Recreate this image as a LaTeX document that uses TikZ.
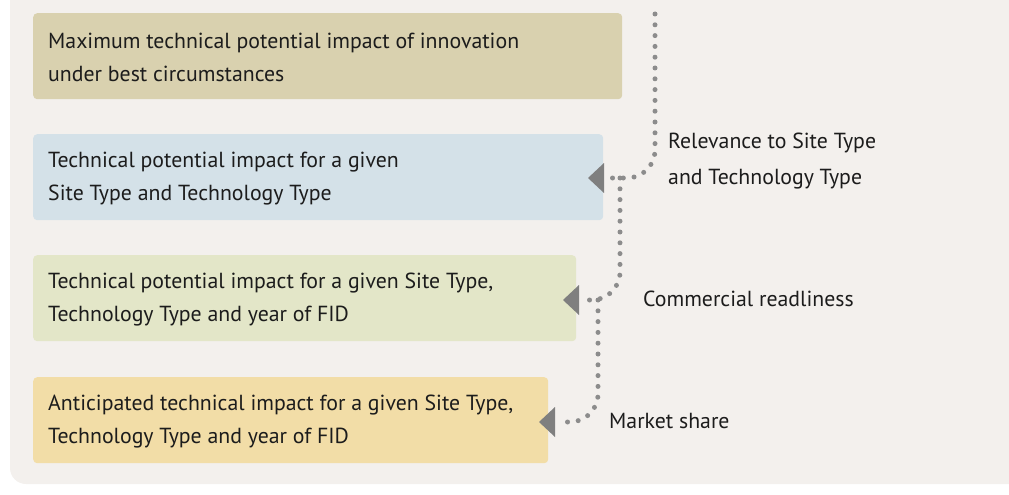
\documentclass[tikz,border=0pt]{standalone}
\usepackage{fontspec}
\setmainfont{PT Sans}
\definecolor{panel}{HTML}{F3F0ED}
\definecolor{boxA}{HTML}{D9D1AF}
\definecolor{boxB}{HTML}{D4E1E8}
\definecolor{boxC}{HTML}{E3E6C8}
\definecolor{boxD}{HTML}{F2DDA7}
\definecolor{dotc}{HTML}{8C8C8C}
\definecolor{arrc}{HTML}{7F7F7F}
\definecolor{txt}{HTML}{1C1C1C}
\tikzset{
  box/.style={anchor=north west, rounded corners=4pt, minimum height=86pt, inner sep=0pt},
  btxt/.style={anchor=west, inner sep=0pt, align=left, text=txt, font=\fontsize{21.8}{33}\selectfont},
  lbl/.style={anchor=west, inner sep=0pt, align=left, text=txt, font=\fontsize{21.8}{36}\selectfont},
  dots/.style={draw=dotc, line width=5pt, line cap=round, dash pattern=on 0pt off 10.8pt, rounded corners=28pt},
  arr/.style={fill=arrc},
}
\begin{document}
\begin{tikzpicture}[x=1pt,y=-1pt]
\useasboundingbox (0,0) rectangle (1009,495);
\begin{scope}
\clip (0,0) rectangle (1009,495);
\fill[panel, rounded corners=16pt] (10,-30) rectangle (1040,484);
\end{scope}
\node[box, fill=boxA, minimum width=589pt] (b1) at (33,13) {};
\node[box, fill=boxB, minimum width=570pt] (b2) at (33,134) {};
\node[box, fill=boxC, minimum width=543pt] (b3) at (33,255) {};
\node[box, fill=boxD, minimum width=515pt] (b4) at (33,377) {};
\node[btxt] (x1) at ([xshift=15pt,yshift=-1.5pt]b1.west) {Maximum technical potential impact of innovation\\under best circumstances};
\node[btxt] (x2) at ([xshift=15pt,yshift=-1.5pt]b2.west) {Technical potential impact for a given\\Site Type and Technology Type};
\node[btxt] (x3) at ([xshift=15pt,yshift=-1.5pt]b3.west) {Technical potential impact for a given Site Type,\\Technology Type and year of FID};
\node[btxt] (x4) at ([xshift=15pt,yshift=-1.5pt]b4.west) {Anticipated technical impact for a given Site Type,\\Technology Type and year of FID};
% arrowheads
\coordinate (t2) at (588,178);
\coordinate (t3) at (563,300);
\coordinate (t4) at (539,422);
\fill[arr] (t2) -- ++(16,-15) -- ++(0,30) -- cycle;
\fill[arr] (t3) -- ++(16,-15) -- ++(0,30) -- cycle;
\fill[arr] (t4) -- ++(16,-15) -- ++(0,30) -- cycle;
% connectors
\coordinate (top) at (655,14);
\coordinate (e2) at (609,178);
\coordinate (j2) at (620,178);
\coordinate (e3) at (587,300);
\coordinate (j3) at (598,300);
\coordinate (e4) at (563,422);
\draw[dots] (top) |- (e2);
\draw[dots] (j2) |- (e3);
\draw[dots] (j3) |- (e4);
% labels
\node[lbl] (l1) at (668,161) {Relevance to Site Type\\and Technology Type};
\node[lbl] (l2) at (643,299) {Commercial readliness};
\node[lbl] (l3) at (609,421) {Market share};
\end{tikzpicture}
\end{document}
